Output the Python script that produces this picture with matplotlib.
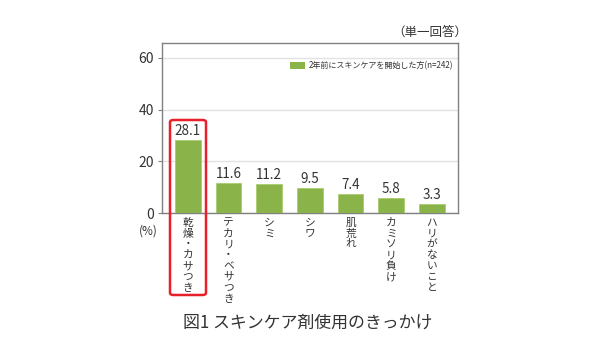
import matplotlib
matplotlib.use("Agg")
import matplotlib.pyplot as plt
from matplotlib.patches import FancyBboxPatch, Patch

plt.rcParams['font.family'] = ['Noto Sans CJK JP', 'DejaVu Sans']

categories = ["乾燥・カサつき", "テカリ・ベサつき", "シミ", "シワ", "肌荒れ", "カミソリ負け", "ハリがないこと"]
values = [28.1, 11.6, 11.2, 9.5, 7.4, 5.8, 3.3]
yticks = [0, 20, 40, 60]
legend_label = "2年前にスキンケアを開始した方(n=242)"
title = "図1 スキンケア剤使用のきっかけ"
note = "（単一回答）"

bar_color = "#8ab34a"
text_color = "#333333"

fig = plt.figure(figsize=(6, 3.43), dpi=100)
ax = fig.add_axes([0.270, 0.379, 0.493, 0.496])

x = list(range(len(categories)))
ax.bar(x, values, width=0.63, color=bar_color, edgecolor="#a9cc6e", linewidth=0.6, zorder=3)
ax.set_xlim(-0.636, len(categories) - 1 + 0.636)
ax.set_ylim(0, 65.8)
ax.set_yticks(yticks)
ax.set_yticklabels([str(t) for t in yticks], fontsize=10, color=text_color)
ax.tick_params(axis='y', length=3, width=0.8, color="#808080", pad=3)
ax.set_xticks([])
for s in ax.spines.values():
    s.set_color("#808080")
    s.set_linewidth(1.0)
ax.grid(axis='y', color="#e3e3e3", linewidth=1.0, zorder=0)

for xi, v in zip(x, values):
    ax.text(xi, v + 0.8, f"{v}", ha='center', va='bottom', fontsize=9.7, color=text_color, zorder=4)

# vertical (tategaki) category labels: one character per row
pitch_pt = 7.8
for xi, c in zip(x, categories):
    for i, ch in enumerate(c):
        ax.annotate(ch, xy=(xi, 0), xycoords='data',
                    xytext=(0, -7 - i * pitch_pt), textcoords='offset points',
                    ha='center', va='center', fontsize=7.7, color=text_color,
                    annotation_clip=False)

ax.annotate("(%)", xy=(0, 0), xycoords='axes fraction', xytext=(-10, -13), textcoords='offset points',
            ha='center', va='center', fontsize=8.5, color=text_color, annotation_clip=False)

leg = ax.legend(handles=[Patch(facecolor=bar_color, edgecolor='none')], labels=[legend_label],
                loc='upper right', bbox_to_anchor=(1.0, 0.92), frameon=False, fontsize=5.8,
                handlelength=1.9, handleheight=0.9, handletextpad=0.4, borderaxespad=0.2)
for t in leg.get_texts():
    t.set_color(text_color)

# red highlight box around first category
rect = FancyBboxPatch((170 / 600, 1 - 295 / 343), 36 / 600, 175 / 343,
                      boxstyle="round,pad=0,rounding_size=0.006", transform=fig.transFigure,
                      facecolor='none', edgecolor="#e8202a", linewidth=1.8, zorder=10)
fig.patches.append(rect)

fig.text(0.778, 1 - 32 / 343, note, ha='right', va='center', fontsize=9, color=text_color)
fig.text(0.5125, 1 - 323 / 343, title, ha='center', va='center', fontsize=12.2, color=text_color)

fig.savefig("out.png", dpi=100)
